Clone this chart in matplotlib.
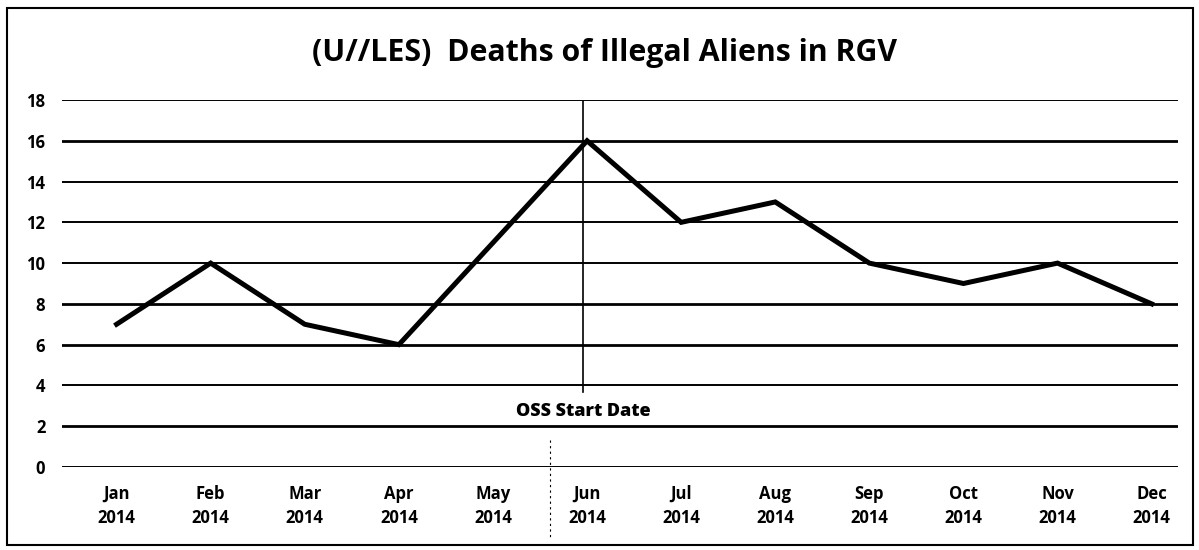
import matplotlib
matplotlib.use("Agg")
import matplotlib.pyplot as plt
from matplotlib.patches import Rectangle
from matplotlib.lines import Line2D

months = ["Jan", "Feb", "Mar", "Apr", "May", "Jun", "Jul", "Aug", "Sep", "Oct", "Nov", "Dec"]
years = ["2014"] * 12
deaths = [7, 10, 7, 6, 11, 16, 12, 13, 10, 9, 10, 8]
yticks = [0, 2, 4, 6, 8, 10, 12, 14, 16, 18]
marker_idx = 5
marker_label = "OSS Start Date"
title = "(U//LES)  Deaths of Illegal Aliens in RGV"

plt.rcParams['font.family'] = ['Open Sans', 'DejaVu Sans']

fig = plt.figure(figsize=(11.99, 5.5), dpi=100)
ax = fig.add_axes([62/1199, 1-467/550, (1178-62)/1199, (467-100)/550])

x = list(range(len(months)))
for yv in yticks:
    ax.axhline(yv, color="black", lw=1.4 if yv not in (2, 6, 8, 16) else 2.0, zorder=1)

ax.plot(x, deaths, color="black", lw=3.6, solid_joinstyle="miter", zorder=3)

# OSS start marker
ax.plot([marker_idx - 0.04, marker_idx - 0.04], [18, 3.7], color="black", lw=1.2, zorder=2)
ax.text(marker_idx - 0.04, 2.7, marker_label, ha="center", va="center", fontsize=13, fontweight="heavy")

ax.set_xlim(-0.58, 11.28)
ax.set_ylim(0, 18)
ax.set_yticks(yticks)
ax.set_yticklabels([str(v) for v in yticks], fontsize=12, fontweight="bold")
ax.set_xticks(x)
ax.set_xticklabels([f"{m}\n{y}" for m, y in zip(months, years)], fontsize=12, fontweight="bold", linespacing=1.45)
ax.tick_params(axis="both", length=0)
ax.tick_params(axis="y", pad=12)
ax.tick_params(axis="x", pad=13)
for s in ax.spines.values():
    s.set_visible(False)
ax.set_facecolor("none")

fig.text(605/1199, 1-53/550, title, ha="center", va="center", fontsize=21.75, fontweight="bold")

# border and scan artifacts
fig.patches.append(Rectangle((7/1199, 5/550), (1193-7)/1199, (542-5)/550, transform=fig.transFigure,
                             fill=False, edgecolor="black", lw=1.5))
fig.lines.append(Line2D([550/1199, 550/1199], [1-440/550, 1-540/550], transform=fig.transFigure,
                        color="black", lw=0.8, linestyle=(0, (2, 3))))

fig.savefig("out.png", dpi=100)
